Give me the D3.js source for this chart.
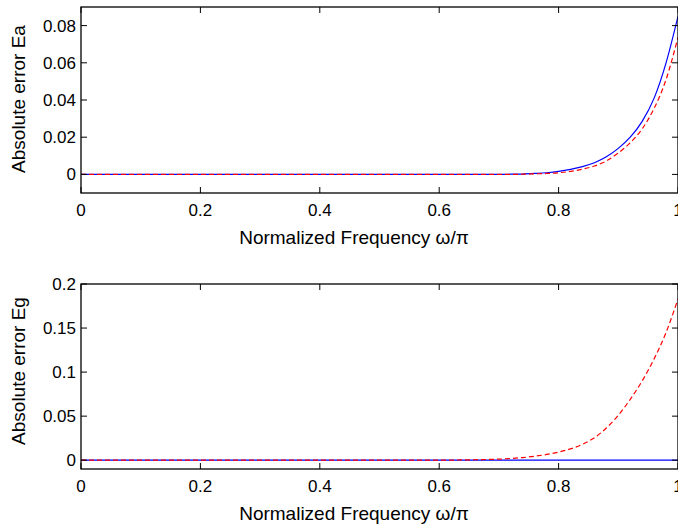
<!DOCTYPE html>
<html>
<head>
<meta charset="utf-8">
<script src="https://cdn.jsdelivr.net/npm/d3@7"></script>
<style>
  body { margin: 0; background: #fff; }
  svg { display: block; font-family: 'Liberation Sans', Arial, sans-serif; }
  .tick-label { font-size: 17px; fill: #000; }
  .axis-label { font-size: 19px; fill: #000; }
</style>
</head>
<body>
<svg width="678" height="527"></svg>
<script>
  // frequency grid (normalized, w/pi)
  const freq = [0, 0.2, 0.4, 0.6, 0.64, 0.68, 0.70, 0.72, 0.74, 0.76, 0.78,
    0.80, 0.82, 0.84, 0.86, 0.88, 0.90, 0.92, 0.94, 0.96, 0.98, 1.00];

  // top panel: amplitude error
  const eaBlue = [0, 0, 0, 0, 0, 0, 0, 0.0001, 0.0002, 0.0005, 0.0009,
    0.0016, 0.0027, 0.0042, 0.0063, 0.0095, 0.014, 0.020, 0.0285, 0.041, 0.060, 0.085];
  const eaRed = [0, 0, 0, 0, 0, 0, 0, 0, 0.0001, 0.0003, 0.0005,
    0.0009, 0.0016, 0.0028, 0.0045, 0.0072, 0.0115, 0.017, 0.0245, 0.0355, 0.051, 0.0737];

  // bottom panel: group delay error
  const egBlue = [0, 0, 0, 0, 0, 0, 0, 0, 0, 0, 0,
    0, 0, 0, 0, 0, 0, 0, 0, 0, 0, 0];
  const egRed = [0, 0, 0, 0, 0.0003, 0.0008, 0.0012, 0.002, 0.003, 0.0045, 0.0065,
    0.0092, 0.0128, 0.018, 0.0255, 0.0365, 0.051, 0.069, 0.09, 0.115, 0.145, 0.183];

  const xTicks = [0, 0.2, 0.4, 0.6, 0.8, 1];
  const eaTicks = [0, 0.02, 0.04, 0.06, 0.08];
  const egTicks = [0, 0.05, 0.1, 0.15, 0.2];

  const xLabelText = 'Normalized Frequency \u03c9/\u03c0';

  const svg = d3.select('svg');

  const left = 81;
  const right = 678; // right frame edge sits just outside the window

  const xScale = d3.scaleLinear().domain([0, 1]).range([left, right]);

  /** draws one boxed panel with in-pointing ticks on all sides */
  const panel = ({ top, bottom, yDomain, yTicks, yFmt, blue, red, yLabel, yLabelY }) => {
    const yScale = d3.scaleLinear().domain(yDomain).range([bottom, top]);
    const g = svg.append('g');
    const tl = 6;

    const line = vals => d3.line()
      .x((d, i) => xScale(freq[i]))
      .y(d => yScale(d))
      .curve(d3.curveMonotoneX)(vals);

    //curves: blue solid under, red dashed over
    g.append('path')
      .attr('d', line(blue))
      .attr('fill', 'none')
      .attr('stroke', '#0000ff')
      .attr('stroke-width', 1.2);
    g.append('path')
      .attr('d', line(red))
      .attr('fill', 'none')
      .attr('stroke', '#ff0000')
      .attr('stroke-width', 1.2)
      .attr('stroke-dasharray', '5,3');

    //x ticks top and bottom, labels below
    xTicks.forEach(t => {
      const x = xScale(t);
      g.append('line').attr('x1', x).attr('x2', x)
        .attr('y1', bottom).attr('y2', bottom - tl).attr('stroke', '#000');
      g.append('line').attr('x1', x).attr('x2', x)
        .attr('y1', top).attr('y2', top + tl).attr('stroke', '#000');
      g.append('text')
        .attr('class', 'tick-label')
        .attr('x', x)
        .attr('y', bottom + 23)
        .attr('text-anchor', 'middle')
        .text(d3.format('')(t));
    });

    //y ticks left and right, labels on left
    yTicks.forEach(t => {
      const y = yScale(t);
      g.append('line').attr('x1', left).attr('x2', left + tl)
        .attr('y1', y).attr('y2', y).attr('stroke', '#000');
      g.append('line').attr('x1', right).attr('x2', right - tl)
        .attr('y1', y).attr('y2', y).attr('stroke', '#000');
      g.append('text')
        .attr('class', 'tick-label')
        .attr('x', left - 5)
        .attr('y', y + 6)
        .attr('text-anchor', 'end')
        .text(yFmt(t));
    });

    //box
    g.append('rect')
      .attr('x', left).attr('y', top)
      .attr('width', right - left).attr('height', bottom - top)
      .attr('fill', 'none')
      .attr('stroke', '#000')
      .attr('stroke-width', 1.3);

    //axis labels
    g.append('text')
      .attr('class', 'axis-label')
      .attr('x', (left + 677) / 2 - 25)
      .attr('y', bottom + 50.5)
      .attr('text-anchor', 'middle')
      .text(xLabelText);

    g.append('text')
      .attr('class', 'axis-label')
      .attr('transform', `translate(24.5,${yLabelY}) rotate(-90)`)
      .attr('text-anchor', 'middle')
      .text(yLabel);
  };

  const fmt = t => (t === 0 ? '0' : String(t));

  panel({
    top: 7, bottom: 193, yDomain: [-0.01, 0.09], yTicks: eaTicks, yFmt: fmt,
    blue: eaBlue, red: eaRed, yLabel: 'Absolute error Ea', yLabelY: 99
  });

  panel({
    top: 284, bottom: 469, yDomain: [-0.01, 0.2], yTicks: egTicks, yFmt: fmt,
    blue: egBlue, red: egRed, yLabel: 'Absolute error Eg', yLabelY: 371
  });
</script>
</body>
</html>
